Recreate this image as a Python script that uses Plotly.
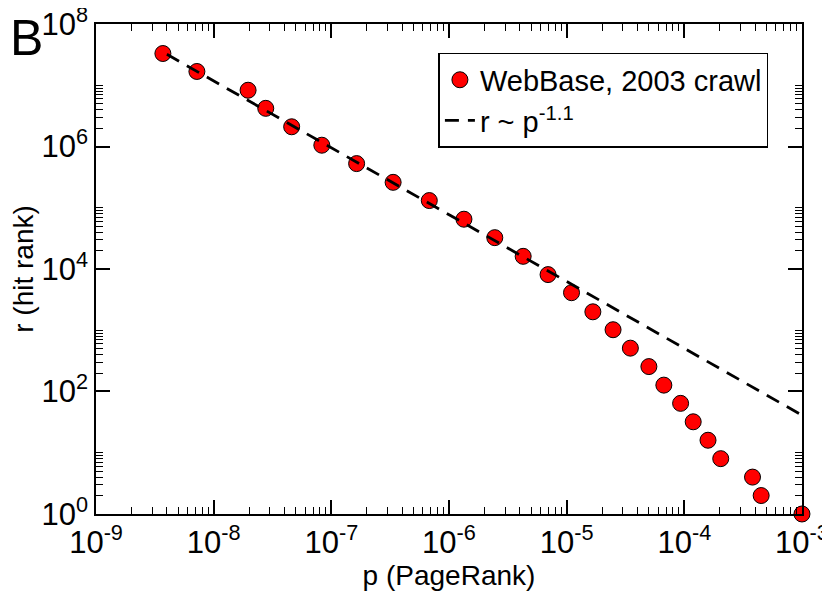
"""Hit rank vs PageRank for the WebBase 2003 crawl, log-log."""

import plotly.graph_objects as go

# PageRank bins and hit rank
pagerank = [
    3.7e-9, 7.2e-9, 1.96e-8, 2.77e-8, 4.6e-8, 8.3e-8, 1.64e-7, 3.35e-7,
    6.8e-7, 1.34e-6, 2.45e-6, 4.27e-6, 6.95e-6, 1.10e-5, 1.67e-5, 2.48e-5,
    3.48e-5, 5.0e-5, 6.7e-5, 9.3e-5, 1.19e-4, 1.59e-4, 2.04e-4, 3.8e-4,
    4.5e-4, 1.0e-3,
]
hit_rank = [
    3.3e7, 1.68e7, 8.3e6, 4.2e6, 2.1e6, 1.05e6, 5.26e5, 2.6e5,
    1.31e5, 6.5e4, 3.25e4, 1.61e4, 8.1e3, 4.1e3, 2.0e3, 1.02e3,
    510, 255, 127, 64, 32, 16, 8, 4,
    2, 1,
]

# power-law guide r ~ p^-1.1
fit_p = [4.0e-9, 1.0e-3]
fit_r = [3.2e7, 41]

x_tickvals = [1e-9, 1e-8, 1e-7, 1e-6, 1e-5, 1e-4, 1e-3]
x_ticktext = ["10<sup>-9</sup>", "10<sup>-8</sup>", "10<sup>-7</sup>", "10<sup>-6</sup>",
              "10<sup>-5</sup>", "10<sup>-4</sup>", "10<sup>-3</sup>"]
y_tickvals = [1, 1e2, 1e4, 1e6, 1e8]
y_ticktext = ["10<sup>0</sup>", "10<sup>2</sup>", "10<sup>4</sup>", "10<sup>6</sup>", "10<sup>8</sup>"]

FONT = "Liberation Sans, Arial, Helvetica, sans-serif"

x_minor = [m * 10.0 ** e for e in range(-9, -3) for m in range(2, 10)]
y_minor = [m * 10.0 ** e for e in (0, 2, 4, 6) for m in range(2, 11)]

fig = go.Figure()

fig.add_trace(
    go.Scatter(
        x=pagerank,
        y=hit_rank,
        mode="markers",
        name="WebBase, 2003 crawl",
        marker=dict(size=16, color="#ff0000", line=dict(color="black", width=1)),
        cliponaxis=False,
    )
)

fig.add_trace(
    go.Scatter(
        x=fit_p,
        y=fit_r,
        mode="lines",
        name="r ~ p<sup>-1.1</sup>",
        line=dict(color="black", width=2.8, dash="14px,9px"),
    )
)

axis_common = dict(
    type="log",
    showgrid=False,
    zeroline=False,
    showline=True,
    linecolor="black",
    linewidth=1.5,
    mirror="ticks",
    ticks="inside",
    ticklen=14,
    tickwidth=1.5,
    tickcolor="black",
    ticklabeloverflow="allow",
    automargin=False,
    tickfont=dict(family=FONT, size=31, color="black"),
)

# ranges a hair wider than the decades so the corner point is not dropped
fig.update_xaxes(
    **axis_common,
    range=[-9.0003, -2.9997],
    tickmode="array",
    tickvals=x_tickvals,
    ticktext=x_ticktext,
    minor=dict(tickvals=x_minor, ticks="inside", ticklen=7, tickwidth=1.2, tickcolor="black"),
    title=dict(text="p (PageRank)", font=dict(family=FONT, size=28, color="black"), standoff=0),
)
fig.update_yaxes(
    **axis_common,
    range=[-0.0004, 8.0004],
    tickmode="array",
    tickvals=y_tickvals,
    ticktext=y_ticktext,
    minor=dict(tickvals=y_minor, ticks="inside", ticklen=7, tickwidth=1.2, tickcolor="black"),
    title=dict(text="r (hit rank)", font=dict(family=FONT, size=28, color="black"), standoff=8),
)

# panel letter
fig.add_annotation(
    text="B",
    xref="paper", yref="paper",
    x=-0.1246, y=1.033,
    xanchor="left", yanchor="top",
    showarrow=False,
    font=dict(family=FONT, size=50, color="black"),
)

# page body adds an 8px offset, so the figure is 8px smaller than the window
fig.update_layout(
    width=822,
    height=584,
    margin=dict(l=88, r=28, t=16, b=78),
    paper_bgcolor="white",
    plot_bgcolor="white",
    font=dict(family=FONT, color="black"),
    legend=dict(
        x=0.485, y=0.941,
        xanchor="left", yanchor="top",
        bgcolor="white",
        bordercolor="black",
        borderwidth=1.5,
        font=dict(family=FONT, size=29, color="black"),
    ),
)

fig.write_html("out.html")
